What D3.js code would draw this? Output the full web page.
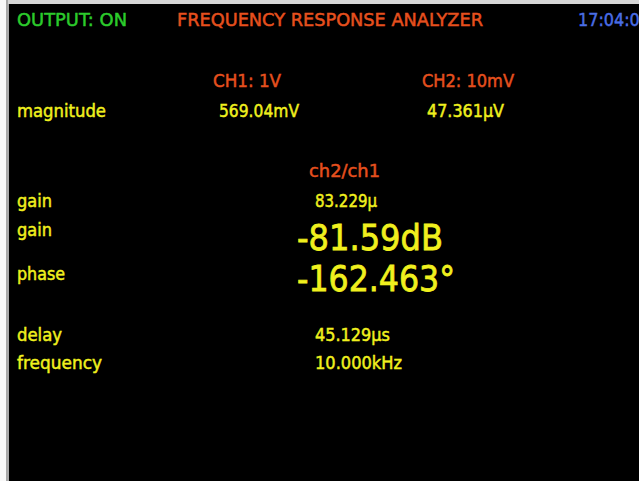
<!DOCTYPE html>
<style>
body { margin: 0; background: #f6f6f6; }
#screen text { font-family: "DejaVu Sans", sans-serif; stroke-width: 0.5px; }
#screen text.big { stroke-width: 0.8px; }
</style>
<svg id="screen" width="639" height="481"></svg>
<script src="https://cdn.jsdelivr.net/npm/d3@7"></script>
<script>

// readings taken off the analyzer screen
var header = ["OUTPUT: ON", "FREQUENCY RESPONSE ANALYZER", "17:04:03"];
var channels = ["CH1: 1V", "CH2: 10mV"];
var magnitudes = ["569.04mV", "47.361\u03bcV"];
var ratioTitle = "ch2/ch1";
var rowLabels = ["gain", "gain", "phase", "delay", "frequency"];
var rowValues = ["83.229\u03bc", "-81.59dB", "-162.463\u00b0", "45.129\u03bcs", "10.000kHz"];

var green = "#2ccb2c", orange = "#e6501e", yellow = "#f0f01e", blue = "#4a6ee6";

var svg = d3.select("#screen");

// window frame: white strip on the left, grey line, grey top strip
svg.append("rect").attr("x", 0).attr("y", 0).attr("width", 639).attr("height", 481).attr("fill", "#f8f8f8");
svg.append("rect").attr("x", 6).attr("y", 0).attr("width", 633).attr("height", 481).attr("fill", "#a8a8a8");
svg.append("rect").attr("x", 8).attr("y", 0).attr("width", 631).attr("height", 4).attr("fill", "#d6d6d6");
svg.append("rect").attr("x", 9).attr("y", 4).attr("width", 630).attr("height", 477).attr("fill", "#000");

var g = svg.append("g");

function put(txt, x, y, size, color, len) {
  var t = g.append("text")
    .attr("x", x).attr("y", y)
    .attr("fill", color)
    .attr("stroke", color)
    .classed("big", size > 30)
    .style("font-size", size + "px")
    .text(txt);
  if (len) t.attr("textLength", len).attr("lengthAdjust", "spacingAndGlyphs");
  return t;
}

// title bar
var headX = [17, 177, 578], headLen = [110, 306, 72], headCol = [green, orange, blue];
header.forEach(function(h, i) { put(h, headX[i], 26, 18, headCol[i], headLen[i]); });

// channel columns
var colX = [213, 422], chLen = [68, 92], magX = [219, 427], magLen = [80, 77];
channels.forEach(function(c, i) { put(c, colX[i], 87, 18, orange, chLen[i]); });
put("magnitude", 17, 117, 18, yellow, 89);
magnitudes.forEach(function(m, i) { put(m, magX[i], 117, 18, yellow, magLen[i]); });

put(ratioTitle, 309, 177, 18, orange, 71);

// ratio rows
var rowY = [207, 236, 280, 341, 369];
var valY = [207, 250, 291, 341, 369];
var valX = [315, 297, 297, 315, 315];
var valLen = [62, 146, 158, 75, 87];
var valSize = [18, 36, 36, 18, 18];
var labLen = [35, 35, 48, 45, 85];

rowLabels.forEach(function(l, i) { put(l, 17, rowY[i], 18, yellow, labLen[i]); });
rowValues.forEach(function(v, i) { put(v, valX[i], valY[i], valSize[i], yellow, valLen[i]); });

</script>
